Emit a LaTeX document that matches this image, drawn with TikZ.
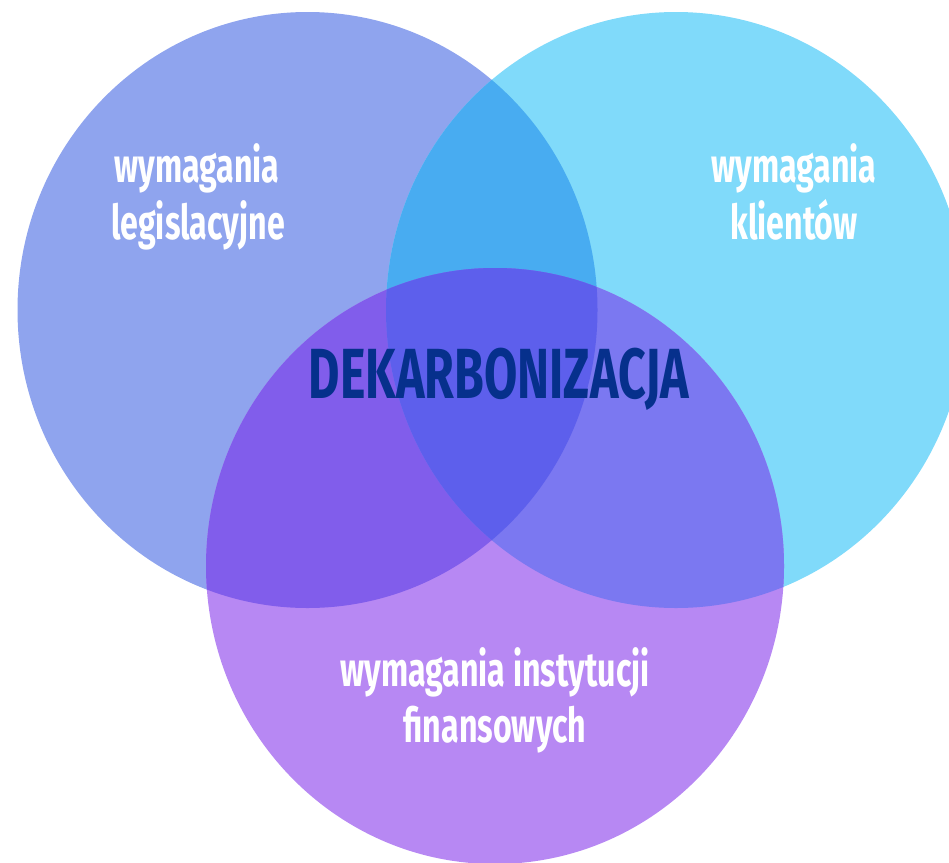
\documentclass[tikz,border=0pt]{standalone}
\usepackage{fontspec}
\newfontfamily\cond[FakeStretch=0.67]{Fira Sans}
\newfontfamily\condT[FakeStretch=0.68]{Fira Sans}
\definecolor{cL}{HTML}{8FA4EE}
\definecolor{cR}{HTML}{80DAFA}
\definecolor{cB}{HTML}{B788F3}
\definecolor{cLR}{HTML}{48ACF1}
\definecolor{cLB}{HTML}{815DEB}
\definecolor{cRB}{HTML}{7B78F1}
\definecolor{cLRB}{HTML}{5D5FEC}
\definecolor{navy}{HTML}{06308C}
\tikzset{
  circL/.style={insert path={(307.5,310) ellipse [x radius=290, y radius=298]}},
  circR/.style={insert path={(676,310) ellipse [x radius=290, y radius=298]}},
  circB/.style={insert path={(495,566) ellipse [x radius=289, y radius=298]}},
  lbl/.style={text=white, font=\cond\bfseries\fontsize{48}{54}\selectfont, anchor=base, inner sep=0pt},
  title/.style={text=navy, font=\condT\bfseries\fontsize{71}{80}\selectfont, anchor=base, inner sep=0pt}
}
\begin{document}
\begin{tikzpicture}[x=1pt,y=-1pt]
\useasboundingbox (0,0) rectangle (949,862);
\clip (0,0) rectangle (949,862);
\fill[cL, circL];
\fill[cR, circR];
\fill[cB, circB];
\begin{scope}
  \clip[circL];
  \fill[cLR, circR];
  \fill[cLB, circB];
\end{scope}
\begin{scope}
  \clip[circR];
  \fill[cRB, circB];
\end{scope}
\begin{scope}
  \clip[circL];
  \clip[circR];
  \fill[cLRB, circB];
\end{scope}
\node[lbl] (l1) at (197,182) {wymagania};
\node[lbl] (l2) at (198,239) {legislacyjne};
\node[lbl] (r1) at (794,182) {wymagania};
\node[lbl] (r2) at (794,239) {klientów};
\node[lbl] (b1) at (495,686) {wymagania instytucji};
\node[lbl] (b2) at (495,742) {finansowych};
\node[title] (t) at (499,398) {DEKARBONIZACJA};
\end{tikzpicture}
\end{document}
